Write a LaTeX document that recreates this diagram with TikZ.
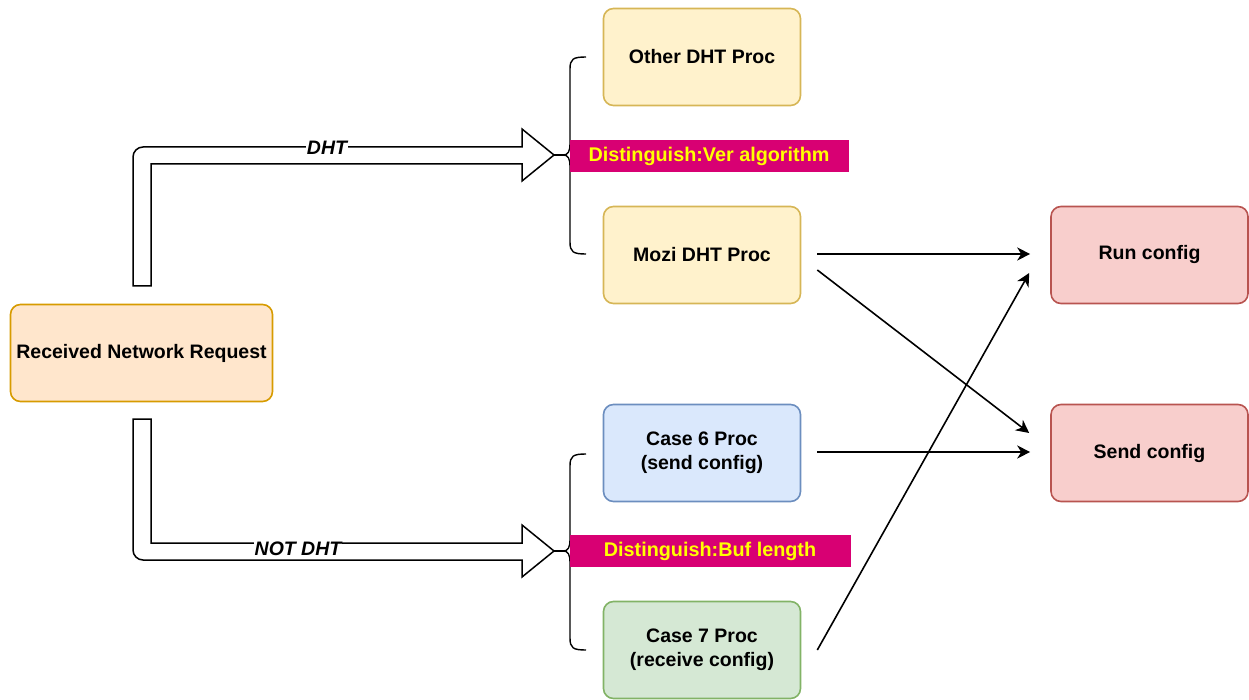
\documentclass[tikz,border=0pt]{standalone}
\usepackage{fontspec}
\setmainfont{Liberation Sans}
\usetikzlibrary{arrows.meta}
\definecolor{yfill}{HTML}{FFF2CC}\definecolor{ystroke}{HTML}{D6B656}
\definecolor{ofill}{HTML}{FFE6CC}\definecolor{ostroke}{HTML}{D79B00}
\definecolor{bfill}{HTML}{DAE8FC}\definecolor{bstroke}{HTML}{6C8EBF}
\definecolor{gfill}{HTML}{D5E8D4}\definecolor{gstroke}{HTML}{82B366}
\definecolor{rfill}{HTML}{F8CECC}\definecolor{rstroke}{HTML}{B85450}
\definecolor{mag}{HTML}{D80073}\definecolor{yel}{HTML}{FFFF00}
\tikzset{
  box/.style={rounded corners=10pt, line width=1.6pt, minimum width=197pt, minimum height=97pt,
    align=center, font=\fontsize{19.5}{24}\selectfont\bfseries, inner sep=2pt},
  ybox/.style={box, fill=yfill, draw=ystroke},
  obox/.style={box, fill=ofill, draw=ostroke, minimum width=262pt},
  bbox/.style={box, fill=bfill, draw=bstroke},
  gbox/.style={box, fill=gfill, draw=gstroke},
  rbox/.style={box, fill=rfill, draw=rstroke},
  tag/.style={fill=mag, draw=mag, minimum height=31pt, text=yel, inner sep=0pt,
    font=\fontsize{19.8}{24}\selectfont\bfseries},
  blockarrow/.style={draw=black, fill=white, line width=1.5pt, line join=miter},
  brace/.style={draw=black, line width=1.4pt},
  conn/.style={draw=black, line width=1.6pt, -{Stealth[length=13pt,width=13pt,inset=4pt]}},
  lbl/.style={fill=white, inner sep=1pt, font=\fontsize{19.5}{24}\selectfont\bfseries\itshape},
}
\begin{document}
\begin{tikzpicture}[x=1pt,y=-1pt]
\useasboundingbox (0,0) rectangle (1249,700);
% nodes
\node[obox] (req) at (141.5,353) {Received Network Request};
\node[ybox] (other) at (702,57) {Other DHT Proc};
\node[ybox] (mozi) at (702,255) {Mozi DHT Proc};
\node[bbox] (c6) at (702,453) {Case 6 Proc\\(send config)};
\node[gbox] (c7) at (702,650) {Case 7 Proc\\(receive config)};
\node[rbox] (run) at (1149.5,255) {Run config};
\node[rbox] (send) at (1149.5,453) {Send config};
% block arrows
\path[blockarrow] (133,286) -- (133,157) arc[start angle=180,end angle=270,radius=10] -- (522,147) -- (522,129) -- (554,155) coordinate (tipA) -- (522,181) -- (522,164) -- (151,164) -- (151,286) -- cycle;
\path[blockarrow] (133,419) -- (133,550) arc[start angle=180,end angle=90,radius=10] -- (522,560) -- (522,577) -- (554,551) coordinate (tipB) -- (522,525) -- (522,543) -- (151,543) -- (151,419) -- cycle;
\node[lbl] (lblA) at (327,148) {DHT};
\node[lbl] (lblB) at (298,549) {NOT DHT};
% braces
\coordinate (notchA) at (563,155);
\coordinate (notchB) at (563,551);
\draw[brace] (586,57) .. controls (573,57) and (570,59) .. (570,69) -- (570,143) .. controls (570,152) and (568,155) .. (notchA) .. controls (568,155) and (570,158) .. (570,167) -- (570,242) .. controls (570,252) and (573,254) .. (586,254);
\draw[brace] (586,454) .. controls (573,454) and (570,456) .. (570,466) -- (570,539) .. controls (570,548) and (568,551) .. (notchB) .. controls (568,551) and (570,554) .. (570,563) -- (570,638) .. controls (570,648) and (573,650) .. (586,650);
\draw[brace] (tipA) -- (notchA);
\draw[brace] (tipB) -- (notchB);
% tags
\node[tag, minimum width=278pt] (tagA) at (709,156) {Distinguish:Ver algorithm};
\node[tag, minimum width=280pt] (tagB) at (710,551) {Distinguish:Buf length};
% connectors
\draw[conn] ([shift={(16,-1)}]mozi.east) -- ([shift={(-20,-1)}]run.west);
\draw[conn] ([shift={(16,15)}]mozi.east) -- ([shift={(-21,-20)}]send.west);
\draw[conn] ([shift={(16,-1)}]c6.east) -- ([shift={(-20,-1)}]send.west);
\draw[conn] ([shift={(16,0)}]c7.east) -- ([shift={(-21,18)}]run.west);
\end{tikzpicture}
\end{document}
